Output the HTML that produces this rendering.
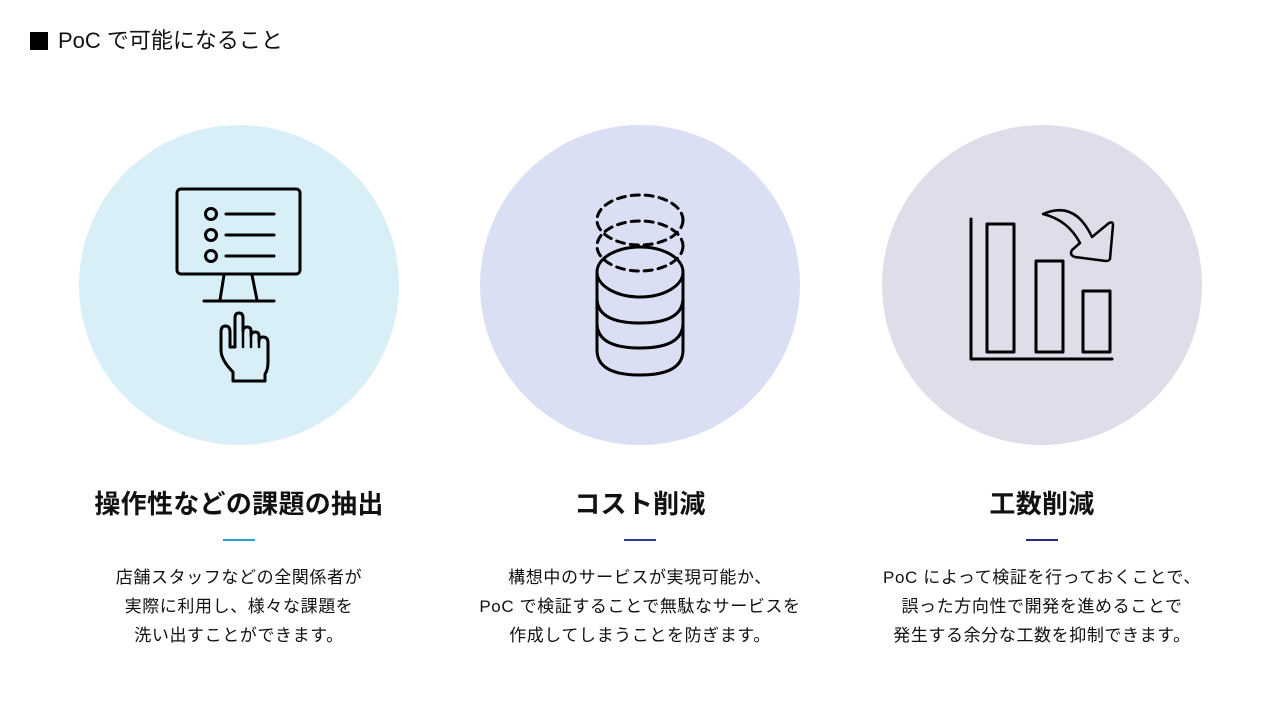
<!DOCTYPE html>
<html><head><meta charset="utf-8"><style>
body{margin:0;width:1280px;height:720px;background:#fff;font-family:"Liberation Sans","Noto Sans CJK JP",sans-serif;color:#111;position:relative;overflow:hidden}
.t{position:absolute;left:30px;top:27px;font-size:22px;line-height:28px}
.t span{display:inline-block;width:18px;height:18px;background:#000;margin-right:10px;vertical-align:-2px}
.c{position:absolute;top:125px;width:320px;height:320px;border-radius:50%}
.h{position:absolute;top:486px;width:400px;text-align:center;font-size:26px;font-weight:bold;line-height:36px;letter-spacing:0.3px}
.u{position:absolute;top:539px;width:32px;height:2px}
.p{position:absolute;top:563px;width:400px;text-align:center;font-size:17px;line-height:29px;letter-spacing:0.6px}
svg{position:absolute}
</style></head><body>
<div class="t"><span></span>PoC で可能になること</div>

<div class="c" style="left:79px;background:#d8eff8"></div>
<div class="c" style="left:480px;background:#dadff4"></div>
<div class="c" style="left:882px;background:#dedde9"></div>

<svg width="1280" height="720" style="left:0;top:0" fill="none" stroke="#000" stroke-width="3" stroke-linecap="round" stroke-linejoin="round">
<rect x="177" y="189" width="123" height="85" rx="4"/>
<circle cx="211" cy="214" r="5.5"/><circle cx="211" cy="235" r="5.5"/><circle cx="211" cy="256" r="5.5"/>
<line x1="226" y1="214" x2="274" y2="214"/><line x1="226" y1="235" x2="274" y2="235"/><line x1="226" y1="256" x2="274" y2="256"/>
<path d="M224 275 L220 300 M252 275 L257 300"/>
<line x1="204" y1="301" x2="274" y2="301"/>
<path d="M233 381 L233 372 Q221 360 221 350 L221 332 Q221 326 225.5 326 Q230 326 230 332 L230 347 L235 347 L235 318 Q235 313 239 313 Q243 313 243 318 L243 331 Q243 327 247 327 Q251 327 251 331 L251 336 Q251 332 255 332 Q259 332 259 336 L259 341 Q259 337 263 337 Q268 337 268 343 L268 362 Q268 370 265 374 L265 381 Z"/>
<path d="M243 330 L243 347 M251 335 L251 347 M259 340 L259 347" stroke-width="2.5"/>
<ellipse cx="640" cy="272" rx="43" ry="25"/>
<path d="M597 272 L597 350 Q597 375 640 375 Q683 375 683 350 L683 272"/>
<path d="M597 298 Q597 323 640 323 Q683 323 683 298"/>
<path d="M597 323 Q597 348 640 348 Q683 348 683 323"/>
<ellipse cx="640" cy="220" rx="43" ry="25" stroke-dasharray="8 6"/>
<ellipse cx="640" cy="246" rx="43" ry="25" stroke-dasharray="8 6"/>
<path d="M971 219 L971 359 L1112 359"/>
<rect x="987" y="224" width="27" height="128"/>
<rect x="1036" y="261" width="27" height="91"/>
<rect x="1083" y="291" width="27" height="61"/>
<path d="M1043 214 Q1075 200 1092 237 L1109 223 Q1113 221 1113 225 L1110 259 Q1109 261 1106 261 L1075 257 Q1069 255 1072 250 L1080 243 Q1068 220 1043 214 Z" stroke-width="2.5"/>
</svg>

<div class="h" style="left:39px">操作性などの課題の抽出</div>
<div class="h" style="left:440px">コスト削減</div>
<div class="h" style="left:842px">工数削減</div>
<div class="u" style="left:223px;background:#2aa0d8"></div>
<div class="u" style="left:624px;background:#2a3a9a"></div>
<div class="u" style="left:1026px;background:#2a2a80"></div>
<div class="p" style="left:39px">店舗スタッフなどの全関係者が<br>実際に利用し、様々な課題を<br>洗い出すことができます。</div>
<div class="p" style="left:440px">構想中のサービスが実現可能か、<br>PoC で検証することで無駄なサービスを<br>作成してしまうことを防ぎます。</div>
<div class="p" style="left:842px">PoC によって検証を行っておくことで、<br>誤った方向性で開発を進めることで<br>発生する余分な工数を抑制できます。</div>
</body></html>
